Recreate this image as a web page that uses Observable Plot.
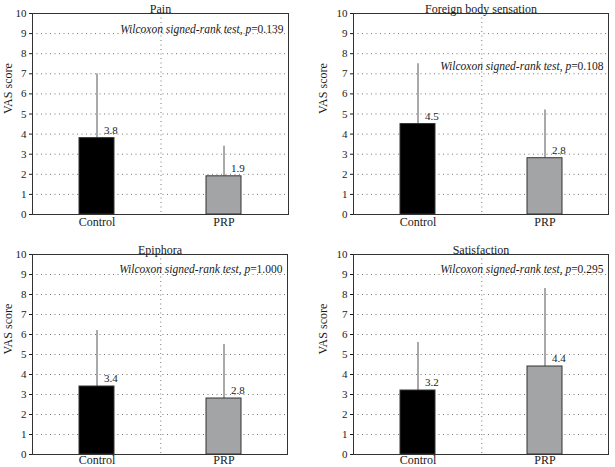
<!DOCTYPE html>
<html>
<head>
<meta charset="utf-8">
<script src="https://cdn.jsdelivr.net/npm/d3@7"></script>
<script src="https://cdn.jsdelivr.net/npm/@observablehq/plot@0.6"></script>
<style>
  html, body { margin: 0; padding: 0; background: white; }
  #root { position: relative; width: 615px; height: 467px; overflow: hidden; background: white; }
  .panel { position: absolute; }
</style>
</head>
<body>
<div id="root"></div>
<script>
// ---- data ----
const panelTitles = ["Pain", "Foreign body sensation", "Epiphora", "Satisfaction"];
const groups = ["Control", "PRP"];
const meanValues = [[3.8, 1.9], [4.5, 2.8], [3.4, 2.8], [3.2, 4.4]];
const upperValues = [[7.0, 3.4], [7.5, 5.2], [6.2, 5.5], [5.6, 8.3]];
const pValues = ["0.139", "0.108", "1.000", "0.295"];
const yTicks = [0, 1, 2, 3, 4, 5, 6, 7, 8, 9, 10];
const gridTicks = [1, 2, 3, 4, 5, 6, 7, 8, 9];
const yLabel = "VAS score";
const barColors = ["#000000", "#a2a4a6"];

// ---- layout ----
const layout = [
  {left: 0,   top: 0,   width: 305, ml: 32, mr: 17, mt: 13, mb: 18, noteDy: 11, labelDx: -24, tickPad: 3},
  {left: 305, top: 0,   width: 310, ml: 48, mr: 7,  mt: 13, mb: 18, noteDy: 48, labelDx: -30, tickPad: 3},
  {left: 0,   top: 235, width: 305, ml: 32, mr: 18, mt: 19, mb: 13, noteDy: 10, labelDx: -24, tickPad: 1},
  {left: 305, top: 235, width: 310, ml: 48, mr: 7,  mt: 19, mb: 13, noteDy: 10, labelDx: -30, tickPad: 1}
];

const root = document.getElementById("root");

panelTitles.forEach((title, i) => {
  const L = layout[i];
  const data = groups.map((g, j) => ({group: g, mean: meanValues[i][j], upper: upperValues[i][j]}));
  const step = (L.width - L.ml - L.mr) / 2;
  const chart = Plot.plot({
    width: L.width,
    height: 232,
    marginLeft: L.ml,
    marginRight: L.mr,
    marginTop: L.mt,
    marginBottom: L.mb,
    style: {fontFamily: "Liberation Serif, serif", fontSize: "11px", color: "#1a1a1a", background: "white", overflow: "visible"},
    x: {domain: groups, paddingInner: 0.727, paddingOuter: 0.364, label: null, tickSize: 0, tickPadding: L.tickPad},
    y: {domain: [0, 10], ticks: yTicks, tickSize: 3, tickPadding: 3, label: null},
    color: {domain: groups, range: barColors},
    marks: [
      Plot.ruleY(gridTicks, {stroke: "#777", strokeWidth: 1, strokeDasharray: "1,3.5"}),
      Plot.ruleX([groups[0]], {x: d => d, dx: step / 2, stroke: "#777", strokeWidth: 1, strokeDasharray: "1,3.5"}),
      Plot.ruleX(data, {x: "group", y1: "mean", y2: "upper", stroke: "#555", strokeWidth: 1}),
      Plot.barY(data, {x: "group", y: "mean", fill: "group", stroke: "#333", strokeWidth: 1}),
      Plot.text(data, {x: "group", y: "mean", text: d => d.mean.toFixed(1), textAnchor: "start", dx: 7, dy: -8, fill: "#1a1a1a"}),
      Plot.frame({stroke: "#333", strokeWidth: 1}),
      Plot.text([title], {frameAnchor: "top", dy: -9, fill: "#1a1a1a", fontSize: 12}),
      Plot.text([yLabel], {frameAnchor: "left", rotate: -90, dx: L.labelDx, fill: "#1a1a1a", fontSize: 12}),
      Plot.text([pValues[i]], {frameAnchor: "top-right", textAnchor: "end", dx: -5, dy: L.noteDy, text: d => "Wilcoxon signed-rank test, p=" + d, fill: "#1a1a1a", fontSize: 11.5})
    ]
  });
  // x tick labels slightly larger, as in the reference
  d3.select(chart).selectAll("g[aria-label='x-axis'] text, g[aria-label='x-axis tick label'] text").attr("font-size", 12);
  // rich formatting of the test annotation
  d3.select(chart).selectAll("text").each(function () {
    const t = this.textContent;
    if (t.startsWith("Wilcoxon")) {
      const p = t.split("p=")[1];
      const sel = d3.select(this);
      sel.text(null);
      sel.append("tspan").attr("font-style", "italic").text("Wilcoxon signed-rank test");
      sel.append("tspan").text(", ");
      sel.append("tspan").attr("font-style", "italic").text("p");
      sel.append("tspan").text("=" + p);
    }
  });
  const div = document.createElement("div");
  div.className = "panel";
  div.style.left = L.left + "px";
  div.style.top = L.top + "px";
  div.appendChild(chart);
  root.appendChild(div);
});
</script>
</body>
</html>
